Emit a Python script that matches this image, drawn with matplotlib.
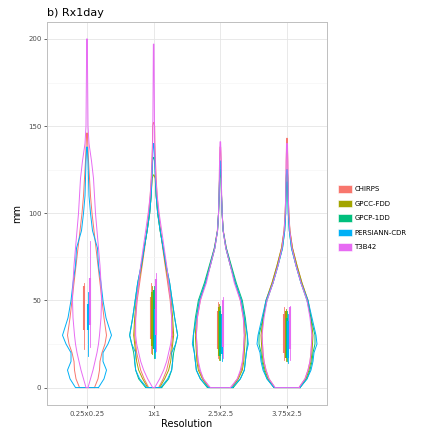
import numpy as np
from matplotlib import pyplot as plt
from matplotlib.patches import Patch

#  -------------------------------------------  data  ------------------------------------------  #

resolutions = ["0.25x0.25", "1x1", "2.5x2.5", "3.75x2.5"]
products = ["CHIRPS", "GPCC-FDD", "GPCP-1DD", "PERSIANN-CDR", "T3B42"]
colors = ["#F8766D", "#A3A500", "#00BF7D", "#00B0F6", "#E76BF3"]

# violin half-widths (density scaled, ~px) at these Rx1day levels (mm)
knots = [0, 5, 10, 15, 20, 25, 30, 40, 50, 60, 70, 80, 90, 100, 110, 120, 130, 140, 150]
nan = np.nan

dens_025 = [
    [7.5, 11, 12.5, 13, 15, 18, 19.5, 17, 15, 13, 11, 9, 7, 5, 3.5, 2.5, 1.5, 0.8, nan],
    None,
    None,
    [11.5, 17, 19.5, 16, 16, 21, 24.5, 19, 16, 14, 11.5, 10.5, 5.5, 3.5, 2, 1.5, 1, nan, nan],
    [1, 3.5, 6, 8, 10, 11.5, 12.5, 14, 14.5, 14, 13, 11.5, 10, 8.5, 7.5, 6.5, 4.5, 2, 1],
]
dens_1 = [
    [5, 9.5, 13, 15, 17, 18, 19, 18, 16.5, 14, 11.5, 9, 7, 5, 3.5, 2.5, 1.8, 1.2, 1],
    [6, 11, 15, 17, 18, 19, 20, 19, 17.5, 15, 12, 9.5, 6.5, 4, 2.5, 1.5, nan, nan, nan],
    [8, 15, 18, 19, 20, 22, 24, 21, 18.5, 16, 12.5, 9.5, 6.5, 4, 2.5, 1.8, 1, nan, nan],
    [7, 14, 18, 19, 18, 22, 24, 21, 18.5, 16, 12.5, 9.5, 6.5, 4, 2.5, 1.8, 1.2, 0.8, nan],
    [1, 6, 10, 13, 15, 17, 18, 18, 17, 15, 13, 10.5, 8, 5.5, 3.5, 2.2, 1.5, 1, 0.8],
]
dens_25 = [
    [11, 17, 21, 22.5, 23, 23.5, 24, 23, 20, 15, 10.5, 6, 3, 1.8, 1.3, 1, 0.8, nan, nan],
    [12, 18, 22, 23.5, 24, 24.5, 25, 24, 21, 15, 10, 5.5, 2.8, 1.8, 1.2, 0.8, nan, nan, nan],
    [13, 20, 24, 25, 26, 27, 27, 25, 22, 16, 11, 6, 2.8, 1.8, 1.2, 0.8, nan, nan, nan],
    [12, 20, 24, 25, 26, 28, 27, 24, 21, 15, 10, 5.5, 2.8, 1.8, 1.2, 0.8, nan, nan, nan],
    [10, 17, 20, 22, 23, 23.5, 24, 23, 20, 14, 10, 5.5, 2.8, 1.8, 1.3, 1, 0.8, nan, nan],
]
dens_375 = [
    [12, 18, 21, 23, 24, 24.5, 25, 24, 21, 15, 10, 5.5, 3, 1.8, 1.3, 1, 0.8, 0.5, nan],
    [13, 19, 22, 24, 25, 25.5, 26, 24, 21, 15, 10, 5.5, 2.8, 1.8, 1.2, 0.8, nan, nan, nan],
    [13, 20, 23, 25, 26, 28, 28, 24, 20, 14, 9, 4.5, 2.3, 1.3, 1, nan, nan, nan, nan],
    [13, 20, 24, 26, 27, 30, 29, 25, 21, 14, 9, 4.5, 2.3, 1.3, 1, 0.8, nan, nan, nan],
    [12, 18, 21, 23, 24, 24.5, 25, 23, 20, 14, 9, 5, 2.8, 1.8, 1.3, 1, 0.8, nan, nan],
]
dens = [dens_025, dens_1, dens_25, dens_375]

# maximum Rx1day per product and resolution (mm)
top_025 = [146, nan, nan, 138, 200]
top_1 = [152, 122, 132, 140, 197]
top_25 = [138, 122, 125, 130, 141]
top_375 = [143, 125, 118, 125, 140]
tops = [top_025, top_1, top_25, top_375]

# summary bars: lower, q1, q3, upper (mm)
box_025 = [[22, 33, 58, 60], None, None, [18, 33, 48, 55], [23, 36, 63, 84]]
box_1 = [[20, 28, 52, 60], [19, 24, 55, 58], [17, 22, 56, 58], [17, 20, 45, 50], [21, 30, 62, 66]]
box_25 = [[17, 22, 44, 49], [16, 18, 46, 48], [16, 18, 44, 47], [15, 19, 42, 46], [17, 23, 50, 52]]
box_375 = [[16, 20, 42, 46], [15, 17, 44, 45], [15, 17, 40, 44], [14, 17, 38, 42], [16, 22, 46, 47]]
boxes = [box_025, box_1, box_25, box_375]


#  -------------------------------------------  plot  ------------------------------------------  #

plt.rcParams.update({"font.family": "DejaVu Sans"})

fig = plt.figure(figsize=(4.22, 4.33), dpi=100)
ax = fig.add_axes([47/422, 1-405/433, 280/422, 383.5/433])

scale = 1/66.7
dodge = [-0.04, -0.02, 0.0, 0.02, 0.04]

for i, res in enumerate(resolutions):
    xc = i + 1
    for j in range(len(products)):
        w = dens[i][j]
        if w is None:
            continue
        top = tops[i][j]
        keep = [(k, v) for k, v in zip(knots, w) if not np.isnan(v) and k < top]
        ys = np.array([k for k, v in keep] + [top])
        ws = np.array([v for k, v in keep] + [0.3])*scale
        xs = np.concatenate([xc + ws, (xc - ws)[::-1], [xc + ws[0]]])
        yy = np.concatenate([ys, ys[::-1], [ys[0]]])
        ax.plot(xs, yy, '-', c=colors[j], lw=0.7, zorder=2+j)

for i, res in enumerate(resolutions):
    xc = i + 1
    for j in range(len(products)):
        b = boxes[i][j]
        if b is None:
            continue
        x = xc + dodge[j]
        ax.plot((x, x), (b[0], b[3]), '-', c=colors[j], lw=0.6, zorder=10)
        ax.plot((x, x), (b[1], b[2]), '-', c=colors[j], lw=1.5, solid_capstyle='butt', zorder=10)

ax.set_xlim((0.4, 4.6))
ax.set_ylim((-10, 210))
ax.set_xticks(range(1, 5))
ax.set_xticklabels(resolutions)
ax.set_yticks([0, 50, 100, 150, 200])
ax.set_yticks([25, 75, 125, 175], minor=True)
ax.tick_params(axis='both', which='major', labelsize=5, colors='#4d4d4d', length=2, width=0.6, pad=2)
ax.tick_params(axis='both', which='minor', length=0)
ax.grid(True, which='major', color='#e5e5e5', lw=0.6, zorder=0)
ax.grid(True, which='minor', axis='y', color='#f5f5f5', lw=0.5, zorder=0)
ax.set_axisbelow(True)
for s in ax.spines.values():
    s.set_color('#bfbfbf')
    s.set_linewidth(0.7)

ax.set_xlabel("Resolution", fontsize=7, labelpad=2)
ax.set_ylabel("mm", fontsize=7, labelpad=4)
ax.set_title("b) Rx1day", fontsize=8, loc='left', pad=4, x=0.0)

handles = [Patch(facecolor=c, edgecolor='white', lw=0.4, label=p) for p, c in zip(products, colors)]
fig.legend(handles=handles, loc='center left', bbox_to_anchor=(338/422, 1-218/433),
           fontsize=5, frameon=False, handlelength=2.0, handleheight=1.3,
           labelspacing=1.0, handletextpad=0.35, borderpad=0, borderaxespad=0)

plt.savefig("out.png", dpi=100)
